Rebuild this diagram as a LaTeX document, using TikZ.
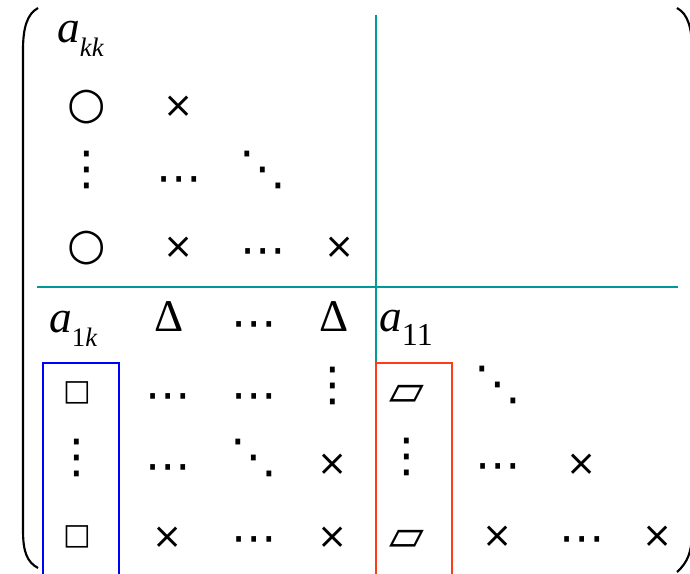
\documentclass[tikz,border=0pt]{standalone}
\usepackage{fontspec}
\setmainfont{Liberation Serif}
\newfontfamily\symfont{DejaVu Sans}
\definecolor{splitcol}{RGB}{0,153,153}
\definecolor{pivotcol}{RGB}{255,60,20}
\newcommand{\elem}[2]{\textit{a}\raisebox{-10pt}{\fontsize{#1}{#1}\selectfont #2}}

\begin{document}
\begin{tikzpicture}[x=0.75pt,y=-0.75pt]
\tikzset{
  sym/.style={inner sep=0pt,font=\symfont\fontsize{27}{27}\selectfont},
  dots/.style={inner sep=0pt,font=\symfont\fontsize{35}{35}\selectfont},
  hdots/.style={inner sep=0pt,yshift=-7pt,font=\symfont\fontsize{34}{34}\selectfont},
  bigsym/.style={inner sep=0pt,font=\symfont\fontsize{33}{33}\selectfont},
  boxsym/.style={inner sep=0pt,font=\symfont\fontsize{22}{22}\selectfont},
  parsym/.style={inner sep=0pt,font=\symfont\fontsize{34}{34}\selectfont},
  pivot/.style={inner sep=0pt,anchor=base west,font=\fontsize{34}{34}\selectfont},
  delta/.style={inner sep=0pt,anchor=base,font=\fontsize{34}{34}\selectfont},
  paren/.style={line width=1.6pt},
  split/.style={line width=1.5pt,draw=splitcol},
  colbox/.style={line width=1.5pt}
}
\clip (0,0) rectangle (690,574);
% upper block
\node[pivot] (n_akk) at (57,43) {\elem{20}{\textit{kk}}};
\node[bigsym] (n_o_1) at (87,107) {○};
\node[sym] (n_x_12) at (179,107) {×};
\node[dots] (n_v_21) at (87,170) {⋮};
\node[hdots] (n_h_22) at (179,176) {⋯};
\node[dots] (n_d_23) at (263,170) {⋱};
\node[bigsym] (n_o_3) at (87,248) {○};
\node[sym] (n_x_32) at (179,248) {×};
\node[hdots] (n_h_33) at (263,248) {⋯};
\node[sym] (n_x_34) at (340,248) {×};
% lower block
\node[pivot] (n_a1k) at (49,333) {\elem{20}{1\textit{k}}};
\node[delta] (n_D_2) at (169,332) {Δ};
\node[hdots] (n_h_43) at (254,321) {⋯};
\node[delta] (n_D_4) at (334,332) {Δ};
\node[pivot] (n_a11) at (379,332) {\elem{24}{11}};
\node[boxsym] (n_q_51) at (77,393) {□};
\node[hdots] (n_h_52) at (168,393) {⋯};
\node[hdots] (n_h_53) at (254,393) {⋯};
\node[dots] (n_v_54) at (333,386) {⋮};
\node[parsym] (n_p_55) at (407,395) {▱};
\node[dots] (n_d_56) at (498,385) {⋱};
\node[dots] (n_v_61) at (77,458) {⋮};
\node[hdots] (n_h_62) at (168,464) {⋯};
\node[dots] (n_d_63) at (254,458) {⋱};
\node[sym] (n_x_64) at (333,465) {×};
\node[dots] (n_v_65) at (407,457) {⋮};
\node[hdots] (n_h_66) at (498,463) {⋯};
\node[sym] (n_x_67) at (582,465) {×};
\node[boxsym] (n_q_71) at (77,537) {□};
\node[sym] (n_x_72) at (168,538) {×};
\node[hdots] (n_h_73) at (254,536) {⋯};
\node[sym] (n_x_74) at (333,538) {×};
\node[parsym] (n_p_75) at (407,540) {▱};
\node[sym] (n_x_76) at (498,537) {×};
\node[hdots] (n_h_77) at (582,536) {⋯};
\node[sym] (n_x_78) at (658,537) {×};
% partition lines and column frames
\draw[split] (37,287) -- (678,287);
\draw[split] (376,15) -- (376,363);
\draw[colbox,draw=blue] (43,590) -- (43,363) -- (119,363) -- (119,590);
\draw[colbox,draw=pivotcol] (376,590) -- (376,363) -- (452,363) -- (452,590);
% brackets
\draw[paren] (38,8) .. controls (27,14) and (23,28) .. (23,50) -- (23,530) .. controls (23,552) and (27,562) .. (38,568);
\draw[paren] (677,8) .. controls (688,14) and (692,28) .. (692,50) -- (692,530) .. controls (692,552) and (688,562) .. (677,572);
\end{tikzpicture}
\end{document}
